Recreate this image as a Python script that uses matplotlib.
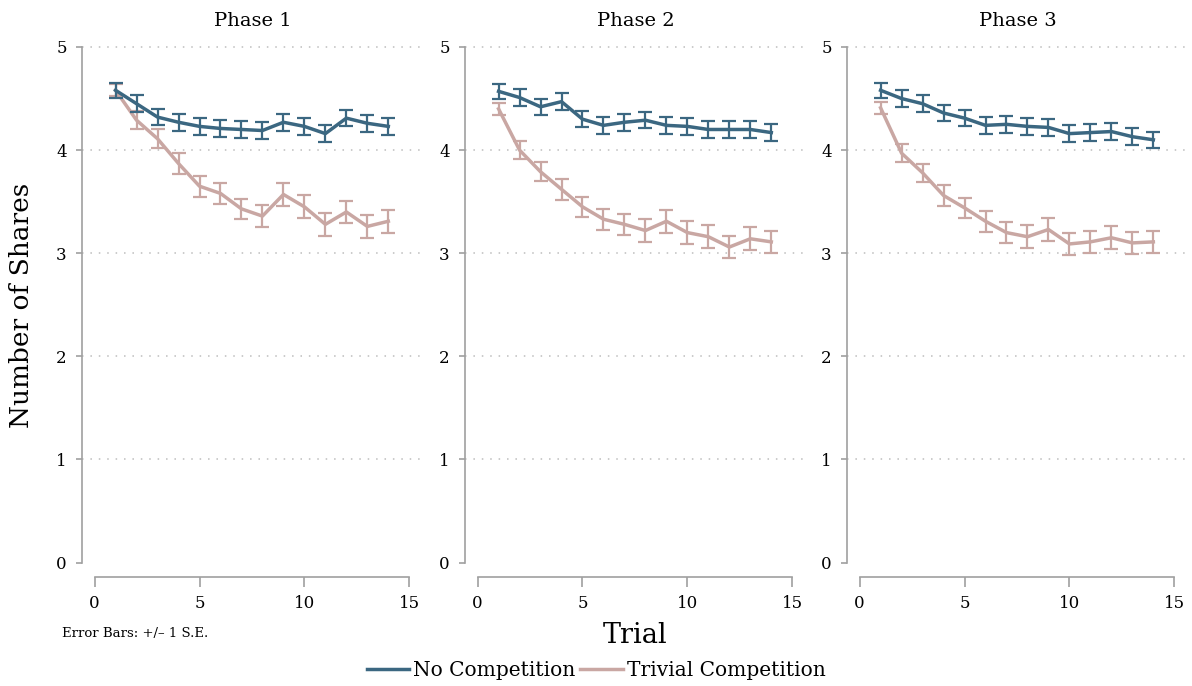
import matplotlib
matplotlib.use("Agg")
import matplotlib.pyplot as plt
from matplotlib.lines import Line2D

trials = list(range(1, 15))
phases = ["Phase 1", "Phase 2", "Phase 3"]
series_names = ["No Competition", "Trivial Competition"]

no_comp_p1 = [4.58, 4.45, 4.32, 4.27, 4.23, 4.21, 4.20, 4.19, 4.27, 4.23, 4.16, 4.31, 4.26, 4.23]
no_comp_p2 = [4.57, 4.51, 4.42, 4.47, 4.30, 4.24, 4.27, 4.29, 4.24, 4.23, 4.20, 4.20, 4.20, 4.17]
no_comp_p3 = [4.58, 4.50, 4.45, 4.36, 4.31, 4.24, 4.25, 4.23, 4.22, 4.16, 4.17, 4.18, 4.13, 4.10]
triv_p1 = [4.58, 4.29, 4.11, 3.87, 3.65, 3.58, 3.43, 3.36, 3.57, 3.45, 3.28, 3.40, 3.26, 3.31]
triv_p2 = [4.40, 4.00, 3.79, 3.62, 3.45, 3.33, 3.28, 3.22, 3.31, 3.20, 3.16, 3.06, 3.14, 3.11]
triv_p3 = [4.41, 3.97, 3.78, 3.56, 3.44, 3.31, 3.20, 3.16, 3.23, 3.09, 3.11, 3.15, 3.10, 3.11]

no_comp_se = [0.07, 0.08, 0.08, 0.08, 0.08, 0.08, 0.08, 0.08, 0.08, 0.08, 0.08, 0.08, 0.08, 0.08]
triv_se = [0.06, 0.09, 0.09, 0.10, 0.10, 0.10, 0.10, 0.11, 0.11, 0.11, 0.11, 0.11, 0.11, 0.11]

no_comp = [no_comp_p1, no_comp_p2, no_comp_p3]
triv = [triv_p1, triv_p2, triv_p3]

yticks = [0, 1, 2, 3, 4, 5]
xticks = [0, 5, 10, 15]

BLUE = "#3b6781"
PINK = "#c9a7a3"
GREY = "#a0a0a0"
FONT = "DejaVu Serif"

plt.rcParams['font.family'] = [FONT]

fig = plt.figure(figsize=(11.92, 6.86), dpi=100)
lefts = [0.0688, 0.3901, 0.7106]
for i, ph in enumerate(phases):
    ax = fig.add_axes([lefts[i], 0.1589, 0.2869, 0.7726])
    ax.set_xlim(-0.6, 15.7)
    ax.set_ylim(-0.14, 5.0)
    for y in yticks[1:]:
        ax.axhline(y, color="#bdbdbd", lw=1.1, ls=(0, (1, 4.5)), zorder=0, clip_on=False)
    ax.errorbar(trials, no_comp[i], yerr=no_comp_se, color=BLUE, lw=2.5,
                elinewidth=1.6, capsize=5, capthick=1.6, label=series_names[0], zorder=3)
    ax.errorbar(trials, triv[i], yerr=triv_se, color=PINK, lw=2.5,
                elinewidth=1.6, capsize=5, capthick=1.6, label=series_names[1], zorder=2)
    for s in ["top", "right"]:
        ax.spines[s].set_visible(False)
    ax.spines["left"].set_bounds(0, 5)
    ax.spines["bottom"].set_bounds(0, 15)
    for s in ["left", "bottom"]:
        ax.spines[s].set_color(GREY)
        ax.spines[s].set_linewidth(1.2)
    ax.set_yticks(yticks)
    ax.set_xticks(xticks)
    ax.tick_params(axis="y", length=4, width=1.2, color=GREY, pad=7, labelsize=12)
    ax.tick_params(axis="x", length=7, width=1.2, color=GREY, pad=6, labelsize=12)
    ax.set_title(ph, fontsize=14, pad=15)

fig.text(0.018, 0.555, "Number of Shares", rotation=90, ha="center", va="center", fontsize=19)
fig.text(0.533, 0.074, "Trial", ha="center", va="center", fontsize=19.5)
fig.text(0.052, 0.077, "Error Bars: +/\u2013 1 S.E.", ha="left", va="center", fontsize=9.5)

h = [Line2D([], [], color=BLUE, lw=2.5), Line2D([], [], color=PINK, lw=2.5)]
fig.legend(h, series_names, loc="center", bbox_to_anchor=(0.5, 0.022), ncol=2, frameon=False,
           fontsize=14.5, handlelength=2.1, handletextpad=0.2, columnspacing=0.25,
           borderaxespad=0, borderpad=0)

fig.savefig("out.png", dpi=100)
